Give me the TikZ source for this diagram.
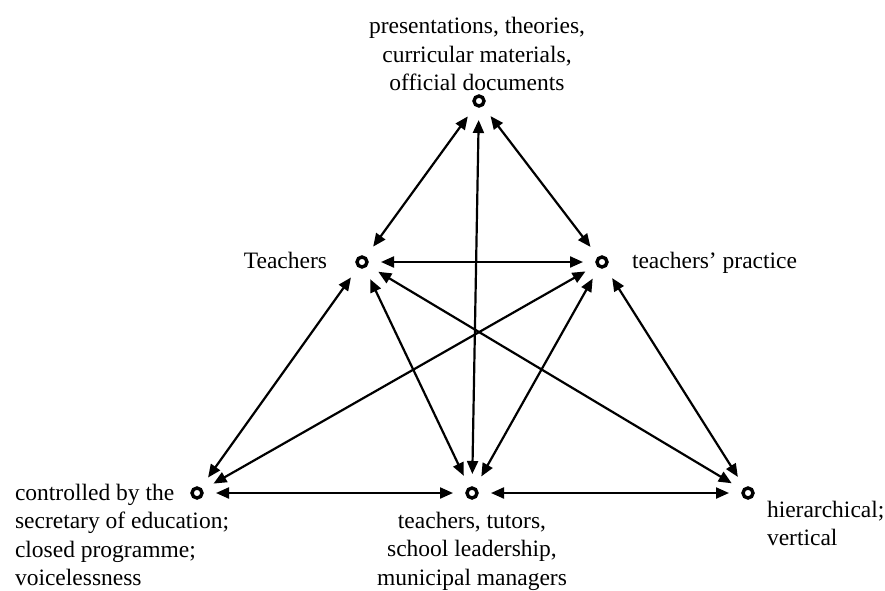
\documentclass[tikz,border=0pt]{standalone}
\usepackage{fontspec}
\setmainfont{Liberation Serif}
\usetikzlibrary{arrows.meta}
\begin{document}
\begin{tikzpicture}[x=1pt,y=-1pt,
  dot/.style={circle,draw=black,line width=3.4pt,minimum size=10pt,inner sep=0pt,outer sep=0pt},
  lbl/.style={inner sep=0pt,outer sep=0pt,font=\fontsize{23.5}{28.5}\selectfont},
  link/.style={line width=2.2pt,{Triangle[length=13pt,width=11pt]}-{Triangle[length=13pt,width=11pt]},shorten <=14pt,shorten >=14pt}]
\useasboundingbox (0,0) rectangle (885,590);
\fill[white] (0,0) rectangle (885,590);
\node[dot] (top) at (479,101) {};
\node[dot] (tea) at (362,262) {};
\node[dot] (pra) at (602,262) {};
\node[dot] (bl) at (197,493) {};
\node[dot] (bm) at (472,493) {};
\node[dot] (br) at (748,493) {};
\node[lbl,align=center,anchor=south] (ttop) at (477,91) {presentations, theories,\\curricular materials,\\official documents};
\node[lbl,anchor=base east] (ttea) at (327,268) {Teachers};
\node[lbl,anchor=base west] (tpra) at (632,268) {teachers’ practice};
\node[lbl,align=left,anchor=north west] (tbl) at (15,484) {controlled by the\\secretary of education;\\closed programme;\\voicelessness};
\node[lbl,align=center,anchor=north] (tbm) at (472,512) {teachers, tutors,\\school leadership,\\municipal managers};
\node[lbl,align=left,anchor=north west] (tbr) at (767,501) {hierarchical;\\vertical};
\draw[link] (top) -- (tea);
\draw[link] (top) -- (pra);
\draw[link] (top) -- (bm);
\draw[link] (tea) -- (pra);
\draw[link] (tea) -- (bl);
\draw[link] (tea) -- (bm);
\draw[link] (tea) -- (br);
\draw[link] (pra) -- (bl);
\draw[link] (pra) -- (bm);
\draw[link] (pra) -- (br);
\draw[link] (bl) -- (bm);
\draw[link] (bm) -- (br);
\end{tikzpicture}
\end{document}
